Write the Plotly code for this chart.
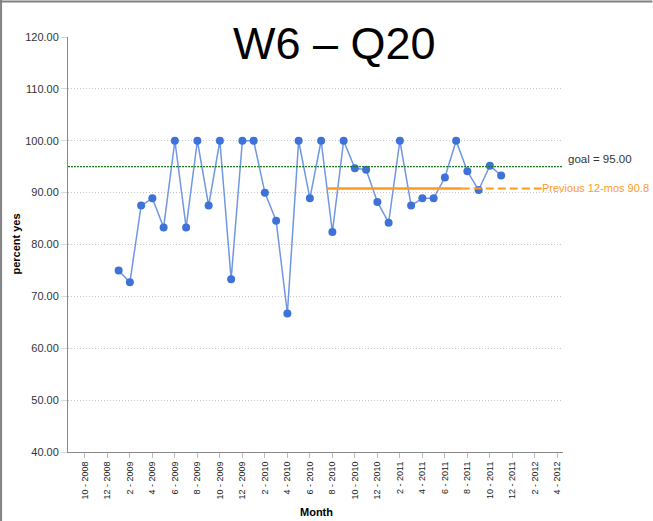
import plotly.graph_objects as go

# Monthly survey results: share of "yes" answers (percent)
data_months = [
    "1 - 2009", "2 - 2009", "3 - 2009", "4 - 2009", "5 - 2009", "6 - 2009",
    "7 - 2009", "8 - 2009", "9 - 2009", "10 - 2009", "11 - 2009", "12 - 2009",
    "1 - 2010", "2 - 2010", "3 - 2010", "4 - 2010", "5 - 2010", "6 - 2010",
    "7 - 2010", "8 - 2010", "9 - 2010", "10 - 2010", "11 - 2010", "12 - 2010",
    "1 - 2011", "2 - 2011", "3 - 2011", "4 - 2011", "5 - 2011", "6 - 2011",
    "7 - 2011", "8 - 2011", "9 - 2011", "10 - 2011", "11 - 2011",
]
percent_yes = [
    75.0, 72.7, 87.5, 88.9, 83.3, 100.0,
    83.3, 100.0, 87.5, 100.0, 73.3, 100.0,
    100.0, 90.0, 84.6, 66.7, 100.0, 88.9,
    100.0, 82.4, 100.0, 94.7, 94.4, 88.2,
    84.2, 100.0, 87.5, 88.9, 88.9, 92.9,
    100.0, 94.1, 90.5, 95.2, 93.3,
]

goal = 95.00
prev_12_mean = 90.8
prev_12_first = "8 - 2010"
prev_12_last = "7 - 2011"

# Axis categories: every month from 9-2008 through 4-2012
axis_months = []
m, y = 9, 2008
while (y, m) <= (2012, 4):
    axis_months.append(f"{m} - {y}")
    m += 1
    if m > 12:
        m, y = 1, y + 1
tick_labels = axis_months[1::2]

y_ticks = [40, 50, 60, 70, 80, 90, 100, 110, 120]

FONT = "Arial, Liberation Sans, sans-serif"
W, H = 653, 521
L, R, T, B = 68, 89.5, 37, 69
pw, ph = W - L - R, H - T - B


def px_x(p):
    return (p - L) / pw


def px_y(p):
    return (H - B - p) / ph


fig = go.Figure()

fig.add_trace(go.Scatter(
    x=data_months, y=percent_yes, mode="lines+markers",
    line=dict(color="#7097e2", width=1.5),
    marker=dict(color="#3f72d8", size=8),
    showlegend=False, cliponaxis=False,
))

i0 = axis_months.index(prev_12_first) - 0.5
i1 = axis_months.index(prev_12_last) + 0.5
i_end = 42.0

shapes = [
    # goal line
    dict(type="line", xref="paper", yref="y", x0=0, x1=1, y0=goal, y1=goal,
         line=dict(color="#1f7a1f", width=1.2, dash="2px,1px")),
    # previous 12-month mean (solid over its window, dashed after)
    dict(type="line", xref="x", yref="y", x0=i0, x1=i1,
         y0=prev_12_mean, y1=prev_12_mean,
         line=dict(color="#ff9a1f", width=2.5)),
    dict(type="line", xref="x", yref="y", x0=i1, x1=i_end,
         y0=prev_12_mean, y1=prev_12_mean,
         line=dict(color="#ff9a1f", width=2, dash="8px,4px")),
    # frame edges
    dict(type="line", xref="paper", yref="paper", x0=px_x(0), x1=px_x(W),
         y0=px_y(1.5), y1=px_y(1.5), line=dict(color="#808080", width=2)),
    dict(type="line", xref="paper", yref="paper", x0=px_x(1), x1=px_x(1),
         y0=px_y(0), y1=px_y(H), line=dict(color="#808080", width=2)),
]

annotations = [
    dict(text="W6 \u2013 Q20", xref="paper", yref="paper",
         x=px_x(335), y=px_y(44), xanchor="center", yanchor="middle",
         showarrow=False, font=dict(family=FONT, size=45, color="#000000")),
    dict(text=f"goal = {goal:.2f}", xref="paper", yref="y",
         x=px_x(567), y=goal, xanchor="left", yanchor="bottom",
         showarrow=False, font=dict(family=FONT, size=11.5, color="#333333")),
    dict(text=f"Previous 12-mos {prev_12_mean}", xref="paper", yref="y",
         x=px_x(540), y=prev_12_mean, xanchor="left", yanchor="middle",
         showarrow=False, font=dict(family=FONT, size=11, color="#ff9a1f")),
    dict(text="<b>percent yes</b>", xref="paper", yref="paper",
         x=px_x(15), y=0.5, xanchor="center", yanchor="middle", textangle=-90,
         showarrow=False, font=dict(family=FONT, size=11, color="#000000")),
    dict(text="<b>Month</b>", xref="paper", yref="paper",
         x=px_x(317), y=px_y(512), xanchor="center", yanchor="middle",
         showarrow=False, font=dict(family=FONT, size=11, color="#000000")),
]

fig.update_layout(
    width=W, height=H,
    margin=dict(l=L, r=R, t=T, b=B, pad=0),
    paper_bgcolor="white", plot_bgcolor="white",
    font=dict(family=FONT),
    shapes=shapes, annotations=annotations,
    xaxis=dict(
        type="category", categoryorder="array", categoryarray=axis_months,
        range=[-0.5, len(axis_months) - 0.5],
        tickmode="array", tickvals=tick_labels, ticktext=tick_labels,
        tickangle=-90, tickfont=dict(family=FONT, size=9, color="#222222"),
        ticks="outside", ticklen=5, tickcolor="#bbbbbb",
        showline=True, linecolor="#888888", linewidth=1,
        showgrid=False, zeroline=False,
    ),
    yaxis=dict(
        range=[40, 120], tickmode="array", tickvals=y_ticks,
        tickformat=".2f", tickfont=dict(family=FONT, size=11, color="#333333"),
        ticks="outside", ticklen=6, tickcolor="#d8d8d8",
        showline=True, linecolor="#888888", linewidth=1,
        showgrid=True, gridcolor="#c8c8c8", griddash="1px,2px", gridwidth=1,
        zeroline=False,
    ),
)

fig.write_html("out.html")
